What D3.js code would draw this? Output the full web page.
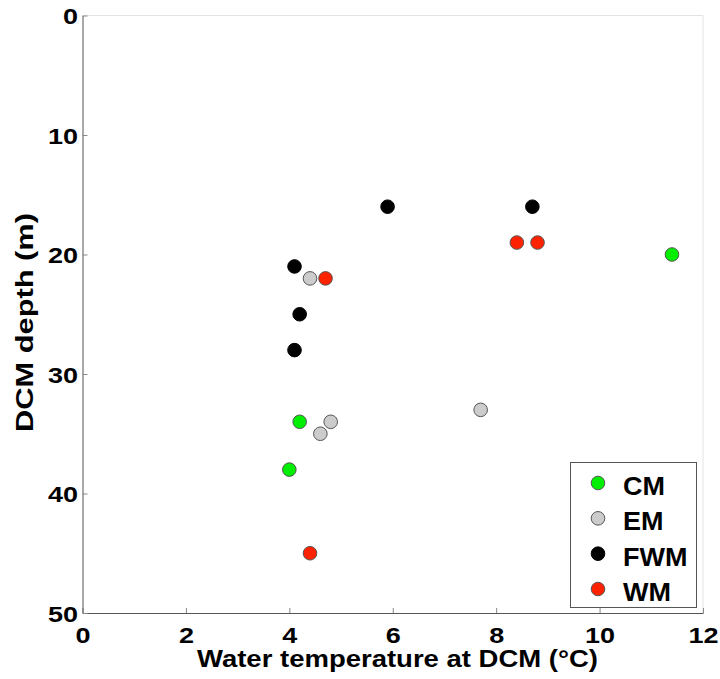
<!DOCTYPE html>
<html><head><meta charset="utf-8">
<script src="https://cdn.jsdelivr.net/npm/d3@7"></script>
<style>body{margin:0;background:#fff}svg text{font-family:"Liberation Sans",Arial,sans-serif;font-weight:bold}</style>
</head><body>
<svg id="c" width="720" height="679"></svg>
<script>
const groups = ["CM","EM","FWM","WM"];
const colors = ["#00ee00","#cccccc","#000000","#ff2200"];
const cmTemp = [11.4, 4.2, 4.0];
const cmDepth = [20, 34, 38];
const emTemp = [4.4, 4.8, 4.6, 7.7];
const emDepth = [22, 34, 35, 33];
const fwmTemp = [5.9, 8.7, 4.1, 4.2, 4.1];
const fwmDepth = [16, 16, 21, 25, 28];
const wmTemp = [8.4, 8.8, 4.7, 4.4];
const wmDepth = [19, 19, 22, 45];
const xTicks = [0,2,4,6,8,10,12];
const yTicks = [0,10,20,30,40,50];

const series = [
  {name:"CM", t:cmTemp, d:cmDepth},
  {name:"EM", t:emTemp, d:emDepth},
  {name:"FWM", t:fwmTemp, d:fwmDepth},
  {name:"WM", t:wmTemp, d:wmDepth}
];

const svg = d3.select("#c");
const L=82.5, R=703, T=15.5, B=613;
const x = d3.scaleLinear().domain([0,12]).range([L,R]);
const y = d3.scaleLinear().domain([0,50]).range([T,B]);
const SX = 1.2;

svg.append("line").attr("x1",L).attr("x2",R).attr("y1",T).attr("y2",T).attr("stroke","#e3e3e3");
svg.append("line").attr("x1",R).attr("x2",R).attr("y1",T).attr("y2",B).attr("stroke","#e3e3e3");

const xa = svg.append("g").attr("transform",`translate(0,${B})`)
  .call(d3.axisBottom(x).tickValues(xTicks).tickSize(-5).tickSizeOuter(0));
const ya = svg.append("g").attr("transform",`translate(${L},0)`)
  .call(d3.axisLeft(y).tickValues(yTicks).tickSize(-5).tickSizeOuter(0));
[xa,ya].forEach(a=>{
  a.select(".domain").attr("stroke","#555");
  a.selectAll(".tick line").attr("stroke","#888");
  a.selectAll(".tick text").attr("fill","#000").style("font-size","22.5px")
    .style("font-family","Liberation Sans, Arial, sans-serif").style("font-weight","bold");
});
xa.selectAll(".tick text").attr("x",0).attr("y",30).attr("dy",0).attr("transform",`scale(${SX},1)`);
ya.selectAll(".tick text").attr("x",-4.5/SX).attr("dy","0.36em").attr("transform",`scale(${SX},1)`);

svg.append("text").attr("x",397.5).attr("y",667).attr("text-anchor","middle")
  .attr("textLength",401).attr("lengthAdjust","spacingAndGlyphs")
  .style("font-size","23px").text("Water temperature at DCM (°C)");
svg.append("text").attr("transform",`translate(33,322.5) rotate(-90)`).attr("text-anchor","middle")
  .attr("textLength",219).attr("lengthAdjust","spacingAndGlyphs")
  .style("font-size","24.5px").text("DCM depth (m)");

const stroke = c => c==="#000000" ? "#000" : "#555";
series.forEach((s,i)=>{
  svg.append("g").selectAll("circle").data(s.t.map((t,j)=>[t,s.d[j]])).join("circle")
    .attr("cx",d=>x(d[0])).attr("cy",d=>y(d[1])).attr("r",6.8)
    .attr("fill",colors[i]).attr("stroke",stroke(colors[i])).attr("stroke-width",1);
});

const lg = svg.append("g");
lg.append("rect").attr("x",570.5).attr("y",462.5).attr("width",126).attr("height",145)
  .attr("fill","#fff").attr("stroke","#555").attr("stroke-width",1);
const ly = d3.scalePoint().domain(groups).range([483,589]);
groups.forEach((g,i)=>{
  lg.append("circle").attr("cx",598).attr("cy",ly(g)).attr("r",6.8)
    .attr("fill",colors[i]).attr("stroke",stroke(colors[i]));
  lg.append("text").attr("transform",`translate(623,${ly(g)+12}) scale(1.08,1)`)
    .style("font-size","25px").text(g);
});
</script>
</body></html>
